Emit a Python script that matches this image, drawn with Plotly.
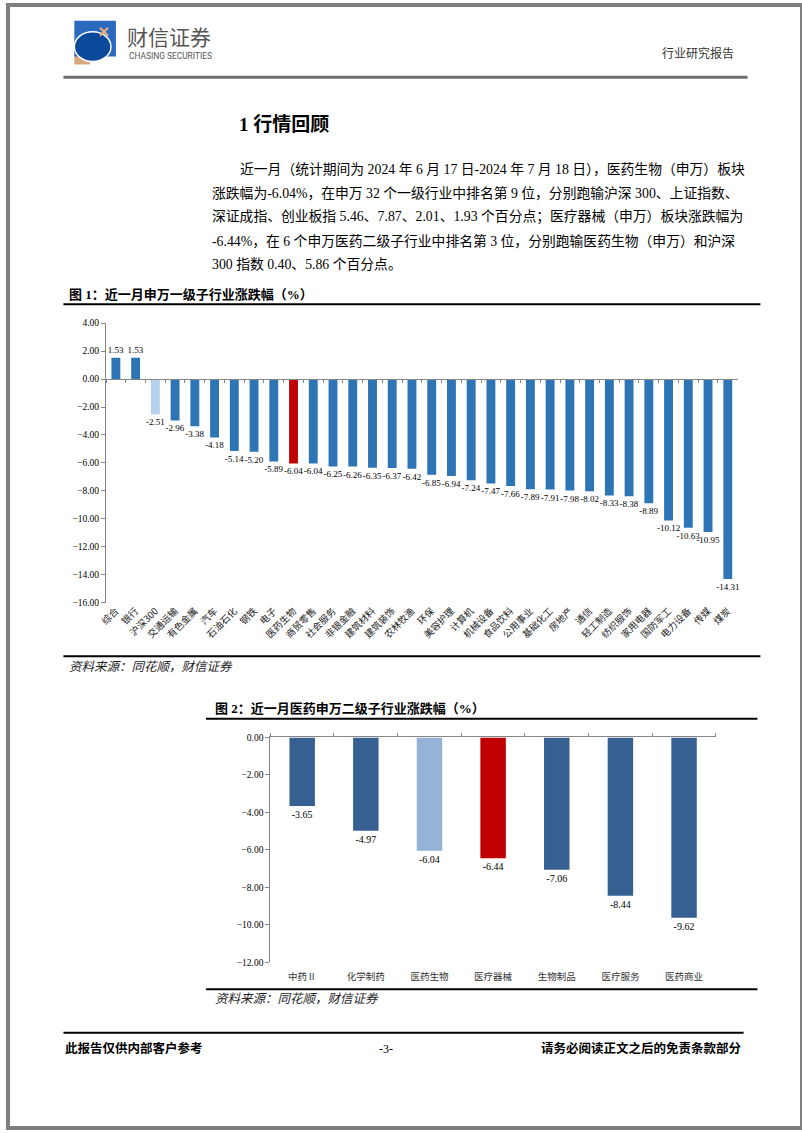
import plotly.graph_objects as go

W, H = 802, 1133

# ---------------- data ----------------
cats1 = ["综合", "银行", "沪深300", "交通运输", "有色金属", "汽车", "石油石化", "钢铁", "电子",
         "医药生物", "商贸零售", "社会服务", "非银金融", "建筑材料", "建筑装饰", "农林牧渔", "环保",
         "美容护理", "计算机", "机械设备", "食品饮料", "公用事业", "基础化工", "房地产", "通信",
         "轻工制造", "纺织服饰", "家用电器", "国防军工", "电力设备", "传媒", "煤炭"]
vals1 = [1.53, 1.53, -2.51, -2.96, -3.38, -4.18, -5.14, -5.20, -5.89, -6.04, -6.04, -6.25,
         -6.26, -6.35, -6.37, -6.42, -6.85, -6.94, -7.24, -7.47, -7.66, -7.89, -7.91, -7.98,
         -8.02, -8.33, -8.38, -8.89, -10.12, -10.63, -10.95, -14.31]
yticks1 = [4, 2, 0, -2, -4, -6, -8, -10, -12, -14, -16]

cats2 = ["中药Ⅱ", "化学制药", "医药生物", "医疗器械", "生物制品", "医疗服务", "医药商业"]
vals2 = [-3.65, -4.97, -6.04, -6.44, -7.06, -8.44, -9.62]
yticks2 = [0, -2, -4, -6, -8, -10, -12]

para_lines = [
    "近一月（统计期间为 2024 年 6 月 17 日-2024 年 7 月 18 日），医药生物（申万）板块",
    "涨跌幅为-6.04%，在申万 32 个一级行业中排名第 9 位，分别跑输沪深 300、上证指数、",
    "深证成指、创业板指 5.46、7.87、2.01、1.93 个百分点；医疗器械（申万）板块涨跌幅为",
    "-6.44%，在 6 个申万医药二级子行业中排名第 3 位，分别跑输医药生物（申万）和沪深",
    "300 指数 0.40、5.86 个百分点。",
]

# ---------------- helpers ----------------
def px(x):
    return x / W

def py(y):
    return 1 - y / H

SERIF = "Liberation Serif, 'Noto Sans CJK SC', serif"
CJK = "'Noto Sans CJK SC', sans-serif"
AXIS_GRAY = "#868686"

fig = go.Figure()

c1 = []
for c in cats1:
    if c == "医药生物":
        c1.append("#C00000")
    elif c == "沪深300":
        c1.append("#B4D0EC")
    else:
        c1.append("#2E75B6")

c2 = []
for c in cats2:
    if c == "医疗器械":
        c2.append("#C00000")
    elif c == "医药生物":
        c2.append("#95B3D7")
    else:
        c2.append("#376092")

fig.add_trace(go.Bar(
    x=cats1, y=vals1, marker_color=c1, marker_line_width=0, width=0.45,
    texttemplate="%{y:.2f}", textposition="outside", constraintext="none",
    textfont=dict(family=SERIF, size=9, color="#000"), cliponaxis=False,
    xaxis="x", yaxis="y", hoverinfo="skip", showlegend=False))
fig.add_trace(go.Scatter(x=cats1, y=vals1, mode="markers", marker=dict(opacity=0),
                         xaxis="x3", yaxis="y", hoverinfo="skip", showlegend=False))

fig.add_trace(go.Bar(
    x=cats2, y=vals2, marker_color=c2, marker_line_width=0, width=0.4,
    texttemplate="%{y:.2f}", textposition="outside", constraintext="none",
    textfont=dict(family=SERIF, size=10, color="#000"), cliponaxis=False,
    xaxis="x2", yaxis="y2", hoverinfo="skip", showlegend=False))
fig.add_trace(go.Scatter(x=cats2, y=vals2, mode="markers", marker=dict(opacity=0),
                         xaxis="x4", yaxis="y2", hoverinfo="skip", showlegend=False))

x1d = [px(99), px(737)]
y1d = [py(603), py(321)]
x2d = [px(265), px(715)]
y2d = [py(966), py(739)]
y1min, y1max = -16, 4
zero1 = y1d[0] + (0 - y1min) / (y1max - y1min) * (y1d[1] - y1d[0])

fig.update_layout(
    width=W, height=H, autosize=False,
    margin=dict(l=0, r=0, t=0, b=0),
    paper_bgcolor="white", plot_bgcolor="rgba(0,0,0,0)",
    showlegend=False,
    xaxis=dict(domain=x1d, anchor="y", type="category", range=[-0.5, len(cats1) - 0.5],
               showline=False, ticks="", showgrid=False, zeroline=False, tickangle=-45,
               tickfont=dict(family=CJK, size=9.5, color="#222")),
    yaxis=dict(domain=y1d, anchor="x", range=[y1min, y1max], tickvals=yticks1,
               tickformat=".2f", showline=True, linecolor=AXIS_GRAY, linewidth=1,
               ticks="outside", ticklen=4, tickcolor=AXIS_GRAY, showgrid=False,
               zeroline=False, tickfont=dict(family=SERIF, size=9.5, color="#000")),
    xaxis3=dict(domain=x1d, overlaying="x", anchor="free", position=zero1, type="category",
                range=[-0.5, len(cats1) - 0.5], showline=True, linecolor=AXIS_GRAY,
                linewidth=1, ticks="outside", tickson="boundaries", ticklen=3,
                tickcolor=AXIS_GRAY, showticklabels=False, showgrid=False, zeroline=False),
    xaxis2=dict(domain=x2d, anchor="y2", type="category", range=[-0.5, len(cats2) - 0.5],
                showline=False, ticks="", showgrid=False, zeroline=False,
                ticklabelstandoff=7,
                tickfont=dict(family=CJK, size=9.5, color="#333")),
    yaxis2=dict(domain=y2d, anchor="x2", range=[-12, 0], tickvals=yticks2,
                tickformat=".2f", showline=True, linecolor=AXIS_GRAY, linewidth=1,
                ticks="outside", ticklen=4, tickcolor=AXIS_GRAY, showgrid=False,
                zeroline=False, tickfont=dict(family=SERIF, size=9.5, color="#000")),
    xaxis4=dict(domain=x2d, overlaying="x2", anchor="y2", side="top", type="category",
                range=[-0.5, len(cats2) - 0.5], showline=True, linecolor=AXIS_GRAY,
                linewidth=1, ticks="outside", tickson="boundaries", ticklen=3,
                tickcolor=AXIS_GRAY, showticklabels=False, showgrid=False, zeroline=False),
)

shapes = []
def hline(y, x0, x1, color="#000", width=2):
    shapes.append(dict(type="line", xref="paper", yref="paper", x0=px(x0), x1=px(x1),
                       y0=py(y), y1=py(y), line=dict(color=color, width=width)))

shapes.append(dict(type="rect", xref="paper", yref="paper", x0=0, x1=1, y0=0, y1=1,
                   line=dict(color="#7f7f7f", width=4), fillcolor="rgba(0,0,0,0)"))
hline(73, 56, 747, color="#6e6e6e", width=3)
hline(302, 56, 760)
hline(657, 56, 760)
hline(720, 200, 757)
hline(993, 200, 757)
hline(1037, 56, 743, width=2)

# logo
shapes.append(dict(type="rect", xref="paper", yref="paper", x0=px(67), x1=px(83),
                   y0=py(60), y1=py(44), line=dict(width=0), fillcolor="#D8A981"))
shapes.append(dict(type="rect", xref="paper", yref="paper", x0=px(67), x1=px(109),
                   y0=py(52), y1=py(16), line=dict(width=0), fillcolor="#2A6BC0"))
shapes.append(dict(type="circle", xref="paper", yref="paper", x0=px(67), x1=px(104),
                   y0=py(57), y1=py(27), line=dict(color="white", width=1.5),
                   fillcolor="#0B4A9A"))
shapes.append(dict(type="line", xref="paper", yref="paper", x0=px(93), x1=px(101),
                   y0=py(23), y1=py(31), line=dict(color="#F2B27C", width=2)))
shapes.append(dict(type="line", xref="paper", yref="paper", x0=px(101), x1=px(93),
                   y0=py(23), y1=py(31), line=dict(color="#F2B27C", width=2)))

fig.update_layout(shapes=shapes)

ann = []
def text(t, x, y, size, family=SERIF, color="#000", xanchor="left", bold=False,
         italic=False, yanchor="middle"):
    if bold:
        t = "<b>" + t + "</b>"
    if italic:
        t = "<i>" + t + "</i>"
    ann.append(dict(text=t, x=px(x), y=py(y), xref="paper", yref="paper",
                    xanchor=xanchor, yanchor=yanchor, showarrow=False,
                    font=dict(family=family, size=size, color=color)))

text("财信证券", 118, 31, 21, family=CJK, color="#555555")
text("CHASING SECURITIES", 120, 51, 8.4, family="Roboto, sans-serif", color="#555555")
text("行业研究报告", 735, 48, 12, family=CJK, color="#333", xanchor="right")

text("1 行情回顾", 231, 121, 19, bold=True)

para_y = [166, 190, 214, 238, 262]
for i, (ln, yy) in enumerate(zip(para_lines, para_y)):
    text(ln, 232 if i == 0 else 204, yy, 13.8)

text("图 1：近一月申万一级子行业涨跌幅（%）", 60, 292, 13, bold=True)
text("资料来源：同花顺，财信证券", 60, 668, 12.5, color="#222", italic=True)
text("图 2：近一月医药申万二级子行业涨跌幅（%）", 207, 710, 13, bold=True)
text("资料来源：同花顺，财信证券", 207, 1003, 12.5, color="#222", italic=True)

text("此报告仅供内部客户参考", 56, 1053, 12.5, bold=True)
text("-3-", 382, 1053, 12, xanchor="center")
text("请务必阅读正文之后的免责条款部分", 743, 1053, 12.5, bold=True, xanchor="right")

fig.update_layout(annotations=ann)

fig.write_html("out.html", config={"displayModeBar": False},
               post_script="document.body.style.margin='0';document.body.style.overflow='hidden';")
